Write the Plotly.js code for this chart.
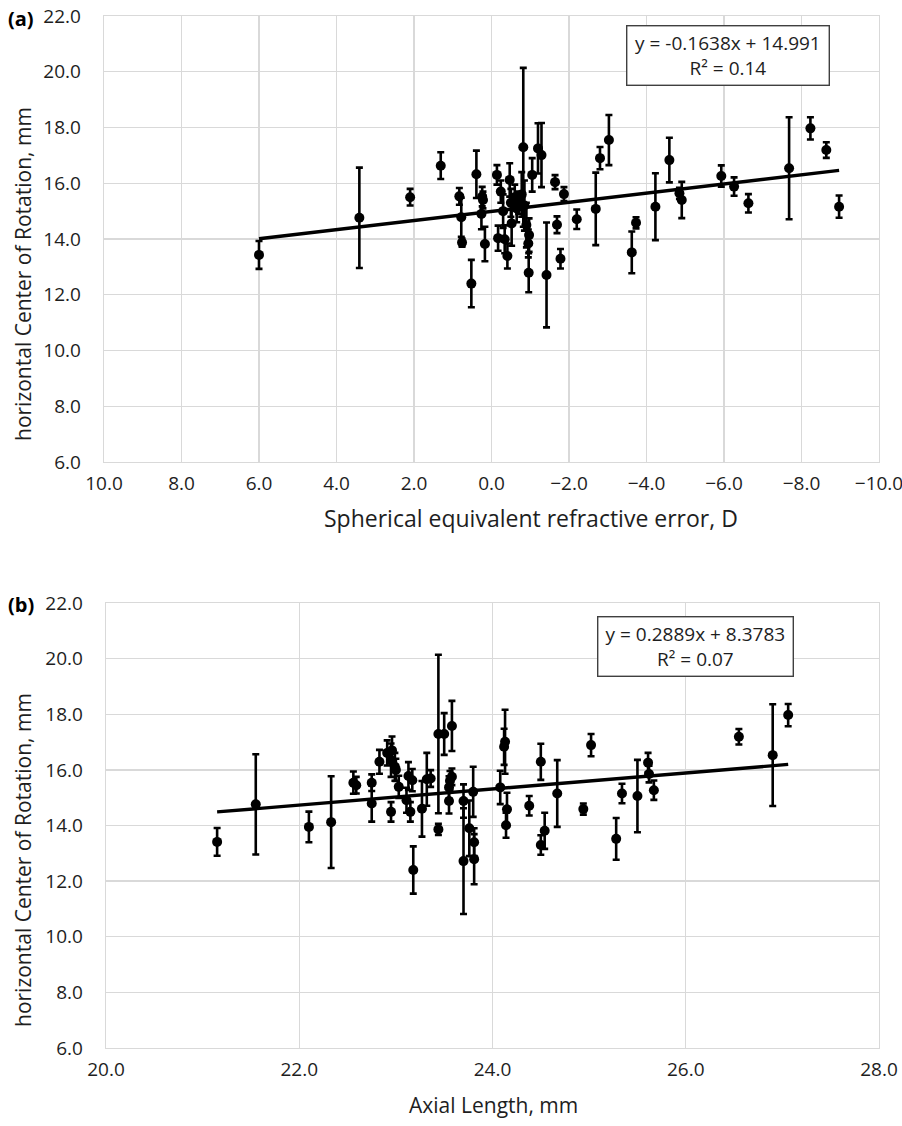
<!DOCTYPE html>
<html>
<head>
<meta charset="utf-8">
<script src="https://cdn.plot.ly/plotly-3.0.1.min.js"></script>
<style>html,body{margin:0;padding:0;background:#fff;}#chart{width:902px;height:1126px;}</style>
</head>
<body>
<div id="chart"></div>
<script>
// Panel (a): spherical equivalent refractive error (D) vs horizontal centre of rotation (mm)
const seX = [6.0, 3.41, 2.1, 1.31, 0.83, 0.78, 0.76, 0.52, 0.39, 0.24, 0.22, 0.26, 0.17, -0.14, -0.17, -0.24, -0.3, -0.34, -0.41, -0.47, -0.5, -0.52, -0.6, -0.65, -0.7, -0.78, -0.82, -0.85, -0.9, -0.97, -0.95, -0.96, -1.05, -1.2, -1.29, -1.42, -1.64, -1.69, -1.78, -1.87, -2.2, -2.69, -2.8, -3.03, -3.62, -3.73, -4.23, -4.59, -4.85, -4.91, -5.93, -6.26, -6.63, -7.68, -8.23, -8.64, -8.97];
const seY = [13.43, 14.76, 15.5, 16.63, 15.53, 14.78, 13.87, 12.4, 16.32, 15.52, 15.4, 14.9, 13.82, 16.3, 14.03, 15.7, 15.0, 13.99, 13.39, 16.12, 15.3, 14.56, 15.5, 15.1, 15.3, 15.6, 17.29, 15.2, 14.5, 14.14, 13.84, 12.79, 16.3, 17.25, 17.01, 12.71, 16.04, 14.51, 13.29, 15.61, 14.71, 15.08, 16.9, 17.55, 13.52, 14.58, 15.16, 16.83, 15.64, 15.4, 16.26, 15.88, 15.28, 16.54, 17.97, 17.19, 15.16];
const seErr = [0.5, 1.8, 0.3, 0.48, 0.3, 0.7, 0.15, 0.85, 0.85, 0.35, 0.3, 0.55, 0.62, 0.35, 0.45, 0.4, 0.6, 0.5, 0.45, 0.6, 0.5, 0.8, 0.45, 0.5, 0.4, 0.8, 2.85, 0.9, 0.8, 0.6, 0.5, 0.7, 0.6, 0.9, 1.15, 1.88, 0.25, 0.3, 0.35, 0.25, 0.35, 1.3, 0.4, 0.9, 0.75, 0.2, 1.2, 0.8, 0.2, 0.65, 0.38, 0.33, 0.33, 1.83, 0.4, 0.28, 0.4];
const seFit = {slope: -0.1638, intercept: 14.991, r2: "0.14"};

// Panel (b): axial length (mm) vs horizontal centre of rotation (mm)
const alX = [21.15, 21.55, 22.1, 22.33, 22.56, 22.59, 22.75, 22.75, 22.83, 22.91, 22.96, 22.95, 22.99, 23.0, 22.95, 23.03, 23.11, 23.13, 23.17, 23.15, 23.18, 23.27, 23.32, 23.36, 23.44, 23.44, 23.5, 23.58, 23.55, 23.56, 23.58, 23.55, 23.7, 23.7, 23.76, 23.81, 23.81, 23.8, 24.08, 24.12, 24.13, 24.15, 24.14, 24.38, 24.5, 24.5, 24.54, 24.67, 24.94, 25.02, 25.28, 25.34, 25.5, 25.61, 25.62, 25.67, 26.55, 26.9, 27.06];
const alY = [13.41, 14.76, 13.95, 14.12, 15.54, 15.45, 15.54, 14.79, 16.29, 16.61, 16.7, 16.35, 16.11, 16.0, 14.49, 15.39, 14.91, 15.78, 15.63, 14.49, 12.4, 14.6, 15.66, 15.69, 17.29, 13.86, 17.29, 17.58, 15.37, 15.61, 15.75, 14.88, 14.88, 12.72, 13.9, 13.4, 12.79, 15.21, 15.37, 16.83, 17.01, 14.58, 14.01, 14.71, 16.29, 13.3, 13.81, 15.15, 14.59, 16.89, 13.52, 15.15, 15.06, 16.26, 15.85, 15.27, 17.19, 16.53, 17.97];
const alErr = [0.5, 1.8, 0.55, 1.65, 0.4, 0.3, 0.3, 0.65, 0.43, 0.45, 0.5, 0.6, 0.5, 0.4, 0.35, 0.4, 0.45, 0.5, 0.4, 0.35, 0.85, 1.0, 0.95, 0.3, 2.85, 0.2, 0.75, 0.9, 0.4, 0.35, 0.3, 0.45, 0.6, 1.9, 1.0, 0.5, 0.9, 0.9, 0.6, 0.65, 1.15, 0.6, 0.45, 0.35, 0.65, 0.35, 0.65, 1.2, 0.2, 0.4, 0.75, 0.35, 1.3, 0.35, 0.3, 0.35, 0.28, 1.83, 0.4];
const alFit = {slope: 0.2889, intercept: 8.3783, r2: "0.07"};

const yTickVals = [6, 8, 10, 12, 14, 16, 18, 20, 22];
const xTickValsA = [10, 8, 6, 4, 2, 0, -2, -4, -6, -8, -10];
const xTickValsB = [20, 22, 24, 26, 28];
const yTitle = "horizontal Center of Rotation, mm";
const xTitleA = "Spherical equivalent refractive error, D";
const xTitleB = "Axial Length, mm";

const FONT = "Open Sans, sans-serif";
const TXT = "#1e1e1e";
const GRID = "#d9d9d9";

function fitLine(xs, fit) {
  const lo = Math.min(...xs), hi = Math.max(...xs);
  return {x: [lo, hi], y: [fit.slope * lo + fit.intercept, fit.slope * hi + fit.intercept]};
}
function fmt(v, d) { return v.toFixed(d); }

const lineA = fitLine(seX, seFit);
const lineB = fitLine(alX, alFit);

const markerStyle = {color: "#000", size: 10};
const errStyle = {type: "data", visible: true, color: "#000", thickness: 2.6, width: 3.5};

const traces = [
  {x: seX, y: seY, type: "scatter", mode: "markers", marker: markerStyle,
   error_y: Object.assign({array: seErr}, errStyle), xaxis: "x", yaxis: "y", showlegend: false},
  {x: lineA.x, y: lineA.y, type: "scatter", mode: "lines", line: {color: "#000", width: 3.4},
   xaxis: "x", yaxis: "y", showlegend: false},
  {x: alX, y: alY, type: "scatter", mode: "markers", marker: markerStyle,
   error_y: Object.assign({array: alErr}, errStyle), xaxis: "x2", yaxis: "y2", showlegend: false},
  {x: lineB.x, y: lineB.y, type: "scatter", mode: "lines", line: {color: "#000", width: 3.4},
   xaxis: "x2", yaxis: "y2", showlegend: false}
];

const W = 902, H = 1126, L = 104, R = 23, T = 16, B = 78;
const pw = W - L - R, ph = H - T - B;
function px(xp) { return (xp - L) / pw; }
function py(yp) { return (H - B - yp) / ph; }

const TICKF = {family: FONT, size: 19, color: TXT};
const TITLEF = {family: FONT, size: 21, color: TXT};

const axCommon = {
  showgrid: true, gridcolor: GRID, gridwidth: 1.3,
  showline: true, mirror: true, linecolor: GRID, linewidth: 1.3,
  zeroline: false, ticks: "", tickformat: ".1f",
  tickfont: TICKF, ticklabeloverflow: "allow"
};

const layout = {
  width: W, height: H,
  margin: {l: L, r: R, t: T, b: B},
  paper_bgcolor: "#fff", plot_bgcolor: "#fff",
  font: {family: FONT, color: TXT},
  showlegend: false,
  xaxis: Object.assign({}, axCommon, {
    domain: [0, 1], anchor: "y", range: [10, -10], tickvals: xTickValsA,
    ticklabelstandoff: 4
  }),
  yaxis: Object.assign({}, axCommon, {
    domain: [py(462), 1], anchor: "x", range: [6, 22], tickvals: yTickVals,
    ticklabelstandoff: 18
  }),
  xaxis2: Object.assign({}, axCommon, {
    domain: [px(106), 1], anchor: "y2", range: [20, 28], tickvals: xTickValsB,
    ticklabelstandoff: 4
  }),
  yaxis2: Object.assign({}, axCommon, {
    domain: [0, py(603)], anchor: "x2", range: [6, 22], tickvals: yTickVals,
    ticklabelstandoff: 18
  }),
  annotations: [
    // axis titles
    {xref: "paper", yref: "paper", x: px(531), y: py(518), xanchor: "center", yanchor: "middle",
     text: xTitleA, showarrow: false, font: {family: FONT, size: 23, color: TXT}},
    {xref: "paper", yref: "paper", x: px(493), y: py(1105), xanchor: "center", yanchor: "middle",
     text: xTitleB, showarrow: false, font: TITLEF},
    {xref: "paper", yref: "paper", x: px(23), y: py(274), xanchor: "center", yanchor: "middle",
     text: yTitle, textangle: -90, showarrow: false, font: TITLEF},
    {xref: "paper", yref: "paper", x: px(23), y: py(860), xanchor: "center", yanchor: "middle",
     text: yTitle, textangle: -90, showarrow: false, font: TITLEF},
    // trend-line equation boxes
    {xref: "paper", yref: "paper", x: px(728), y: py(56), xanchor: "center", yanchor: "middle",
     text: "y = " + fmt(seFit.slope, 4) + "x + " + fmt(seFit.intercept, 3) + "<br>R² = " + seFit.r2,
     showarrow: false, font: {family: FONT, size: 19, color: TXT}, align: "center",
     bgcolor: "#fff", bordercolor: "#404040", borderwidth: 1.4, borderpad: 2, width: 197, height: 54},
    {xref: "paper", yref: "paper", x: px(695), y: py(646), xanchor: "center", yanchor: "middle",
     text: "y = " + fmt(alFit.slope, 4) + "x + " + fmt(alFit.intercept, 4) + "<br>R² = " + alFit.r2,
     showarrow: false, font: {family: FONT, size: 19, color: TXT}, align: "center",
     bgcolor: "#fff", bordercolor: "#404040", borderwidth: 1.4, borderpad: 2, width: 190, height: 54},
    // panel labels
    {xref: "paper", yref: "paper", x: px(6), y: py(18), xanchor: "left", yanchor: "middle",
     text: "<b>(a)</b>", showarrow: false, font: {family: FONT, size: 20, color: "#000"}},
    {xref: "paper", yref: "paper", x: px(6), y: py(604), xanchor: "left", yanchor: "middle",
     text: "<b>(b)</b>", showarrow: false, font: {family: FONT, size: 20, color: "#000"}}
  ]
};

Plotly.newPlot("chart", traces, layout, {displayModeBar: false, staticPlot: true});
</script>
</body>
</html>
